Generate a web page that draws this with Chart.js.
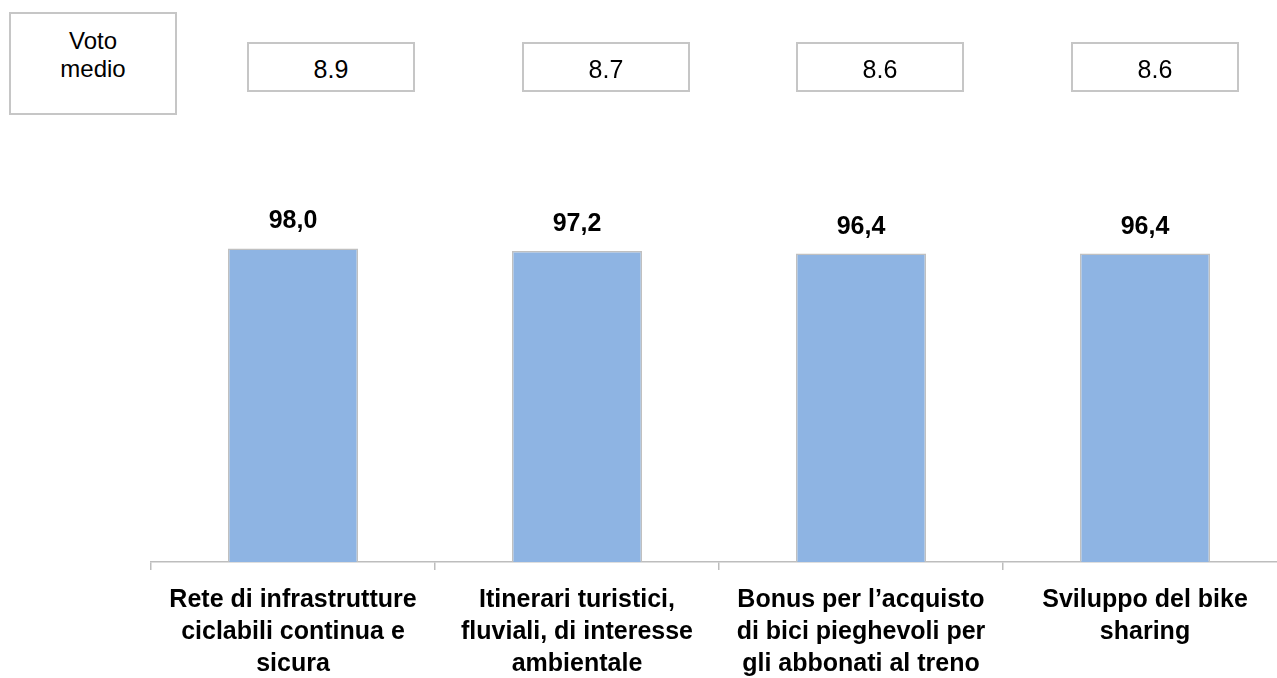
<!DOCTYPE html>
<html>
<head>
<meta charset="utf-8">
<title>Voto medio</title>
<script src="https://cdn.jsdelivr.net/npm/chart.js@4.4.1/dist/chart.umd.min.js"></script>
<style>
    html, body {
        margin: 0;
        padding: 0;
        width: 1277px;
        height: 678px;
        overflow: hidden;
        background: #ffffff;
    }
    #wrap {
        position: absolute;
        left: 0;
        top: 0;
        width: 1300px;
        height: 678px;
    }
    .box {
        position: absolute;
        box-sizing: border-box;
        border: 2px solid #c6c6c6;
        background: #ffffff;
        color: #000000;
        text-align: center;
        font-family: "Liberation Sans", Arial, sans-serif;
    }
    .box.title {
        left: 9px;
        top: 12px;
        width: 168px;
        height: 103px;
        padding-top: 13px;
        font-size: 24px;
        line-height: 28px;
    }
    .box.vote {
        top: 42px;
        width: 168px;
        height: 50px;
        padding-top: 2px;
        font-size: 25px;
        line-height: 46px;
    }
</style>
</head>
<body>
<div id="wrap">
    <canvas id="chart" width="1300" height="678"></canvas>
</div>
<div class="box title">Voto<br>medio</div>
<div id="votes"></div>

<script>
// categorie (etichette su più righe)
const categories = [
    ['Rete di infrastrutture', 'ciclabili continua e', 'sicura'],
    ['Itinerari turistici,', 'fluviali, di interesse', 'ambientale'],
    ['Bonus per l\u2019acquisto', 'di bici pieghevoli per', 'gli abbonati al treno'],
    ['Sviluppo del bike', 'sharing']
];
// percentuale favorevoli
const percentages = [98.0, 97.2, 96.4, 96.4];
// voto medio per iniziativa
const votoMedio = [8.9, 8.7, 8.6, 8.6];

const FONT = '"Liberation Sans", Arial, sans-serif';

// riquadri del voto medio
const votesEl = document.getElementById('votes');
votoMedio.forEach((v, i) => {
    const div = document.createElement('div');
    div.className = 'box vote';
    div.style.left = Math.round(247 + i * 274.7) + 'px';
    div.textContent = v.toFixed(1);
    votesEl.appendChild(div);
});

// valori sopra le barre, con la virgola decimale
const valueLabels = {
    id: 'valueLabels',
    afterDatasetsDraw(chart) {
        const ctx = chart.ctx;
        const meta = chart.getDatasetMeta(0);
        ctx.save();
        ctx.font = 'bold 25px ' + FONT;
        ctx.fillStyle = '#000000';
        ctx.textAlign = 'center';
        ctx.textBaseline = 'alphabetic';
        meta.data.forEach((bar, i) => {
            ctx.fillText(percentages[i].toFixed(1).replace('.', ','), bar.x, bar.y - 20);
        });
        ctx.restore();
    }
};

const ctx = document.getElementById('chart').getContext('2d');
new Chart(ctx, {
    type: 'bar',
    data: {
        labels: categories,
        datasets: [{
            data: percentages,
            backgroundColor: '#8EB4E3',
            borderColor: '#c0c0c0',
            borderWidth: 1.5,
            borderSkipped: 'bottom',
            barPercentage: 0.458,
            categoryPercentage: 1
        }]
    },
    options: {
        responsive: false,
        animation: false,
        layout: {
            padding: { left: 151, right: 13, top: 178, bottom: 0 }
        },
        plugins: {
            legend: { display: false },
            tooltip: { enabled: false }
        },
        scales: {
            x: {
                offset: true,
                grid: {
                    offset: true,
                    drawOnChartArea: false,
                    drawTicks: true,
                    tickLength: 8,
                    color: '#bdbdbd',
                    lineWidth: 1.5
                },
                border: { display: true, color: '#bdbdbd', width: 1.5 },
                ticks: {
                    color: '#000000',
                    font: { family: FONT, size: 25, weight: 'bold', lineHeight: 32 / 25 },
                    padding: 14,
                    maxRotation: 0,
                    autoSkip: false
                },
                afterFit(scale) {
                    scale.height = 116;
                }
            },
            y: {
                display: false,
                min: 0,
                max: 120
            }
        }
    },
    plugins: [valueLabels]
});
</script>
</body>
</html>
